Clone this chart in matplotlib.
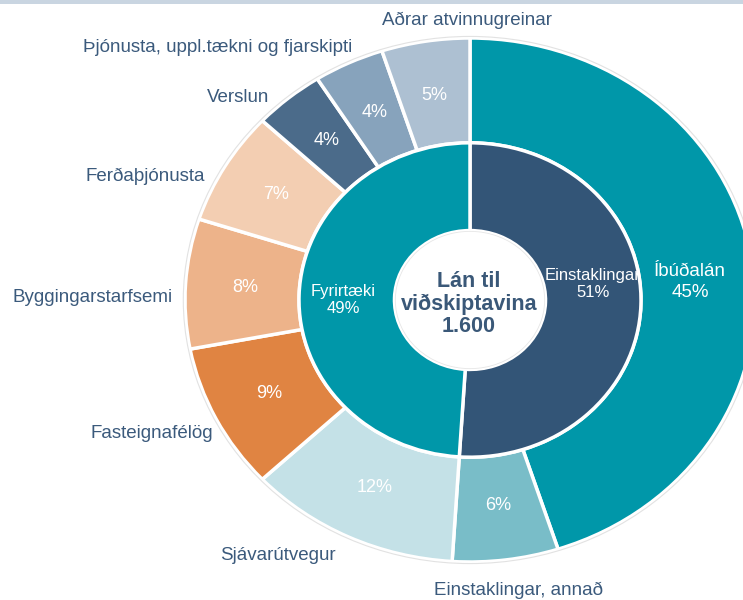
import math

import matplotlib
matplotlib.use("Agg")
import matplotlib.pyplot as plt
from matplotlib.patches import Circle, Rectangle

plt.rcParams["font.family"] = ["Liberation Sans", "DejaVu Sans"]

# outer ring, clockwise from the top
outer_labels = ["Íbúðalán", "Einstaklingar, annað", "Sjávarútvegur", "Fasteignafélög",
                "Byggingarstarfsemi", "Ferðaþjónusta", "Verslun",
                "Þjónusta, uppl.tækni og fjarskipti", "Aðrar atvinnugreinar"]
outer_values = [45, 6, 12, 9, 8, 7, 4, 4, 5]
outer_colors = ["#0097A9", "#79BDC8", "#C4E1E7", "#E08442", "#EDB38A",
                "#F3CEB2", "#4B6B8A", "#87A3BC", "#ADC0D2"]

# inner ring
inner_labels = ["Einstaklingar", "Fyrirtæki"]
inner_values = [51, 49]
inner_colors = ["#335577", "#0097A9"]

center_text = "Lán til\nviðskiptavina\n1.600"

TEXT = "#3B5A7C"
W, H = 743, 600

fig = plt.figure(figsize=(W / 100, H / 100), dpi=100)
ax = fig.add_axes([0, 0, 1, 1])

# pixel mapping of the (slightly stretched) donut
cx, cy, rx, ry = 470, 300, 285, 262

wp = dict(edgecolor="white", linewidth=2.5)
outer_w, _ = ax.pie(outer_values, radius=1.0, colors=outer_colors, startangle=90,
                    counterclock=False, wedgeprops=dict(width=0.40, **wp))
inner_w, _ = ax.pie(inner_values, radius=0.60, colors=inner_colors, startangle=90,
                    counterclock=False, wedgeprops=dict(width=0.335, **wp))
ax.add_patch(Circle((0, 0), 1.006, fill=False, edgecolor="#e2e2e2", linewidth=0.8))
ax.add_patch(Circle((0, 0), 0.262, fill=False, edgecolor="#e6e6e6", linewidth=0.6))

ax.set_aspect("auto")
ax.set_xlim(-cx / rx, (W - cx) / rx)
ax.set_ylim(-(H - cy) / ry, cy / ry)
ax.axis("off")

# percentage labels inside the outer wedges (the big one is labelled separately)
for w, v in zip(outer_w[1:], outer_values[1:]):
    mid = math.radians((w.theta1 + w.theta2) / 2)
    ax.text(0.79 * math.cos(mid), 0.79 * math.sin(mid), f"{v}%",
            color="white", fontsize=13, ha="center", va="center")


def ptext(x, y, s, **kw):
    fig.text(x / W, 1 - y / H, s, **kw)


# outer category labels (pixel layout)
label_pos = [None, (519, 590), (278, 556), (152, 433), (93, 297),
             (145, 176), (238, 97), (218, 47), (467, 20)]
for lab, pos in zip(outer_labels, label_pos):
    if pos is None:
        continue
    ptext(pos[0], pos[1], lab, color=TEXT, fontsize=13.5, ha="center", va="center")

ptext(690, 282, f"{outer_labels[0]}\n{outer_values[0]}%", color="white",
      fontsize=13.5, ha="center", va="center", linespacing=1.3)

inner_pos = [(593, 284), (343, 300)]
for lab, v, pos in zip(inner_labels, inner_values, inner_pos):
    ptext(pos[0], pos[1], f"{lab}\n{v}%", color="white", fontsize=12,
          ha="center", va="center", linespacing=1.1)

ptext(469, 304, center_text, color="#3A5878", fontsize=15.5, fontweight="bold",
      ha="center", va="center", linespacing=1.1)

# thin band along the top edge
fig.patches.append(Rectangle((0, 1 - 4 / H), 1, 4 / H, transform=fig.transFigure,
                             facecolor="#C9D5E1", edgecolor="none"))

fig.savefig("out.png", dpi=100, facecolor="white")
